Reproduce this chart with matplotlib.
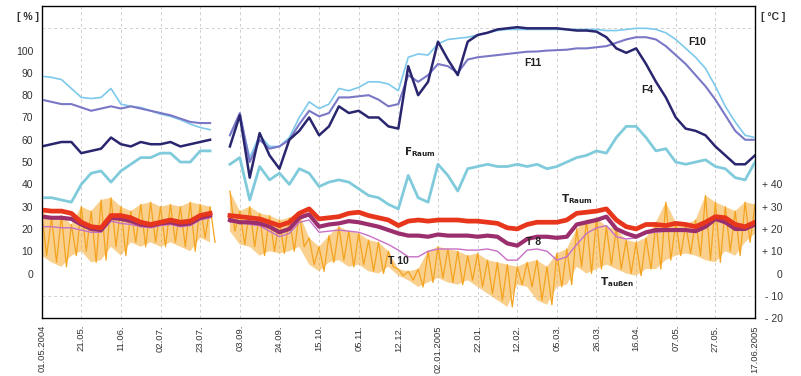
import numpy as np
import matplotlib
matplotlib.use("Agg")
import matplotlib.pyplot as plt

plt.rcParams['font.family'] = ['Liberation Sans', 'DejaVu Sans']

nan = np.nan

# ---- data (sampled every quarter of a tick interval) ----
tick_labels = ['01.05.2004', '21.05.', '11.06.', '02.07.', '23.07.', '03.09.', '24.09.',
               '15.10.', '05.11.', '12.12.', '02.01.2005', '22.01.', '12.02.', '05.03.',
               '26.03.', '16.04.', '07.05.', '27.05.', '17.06.2005']

F10 = [88.5, 88, 87, 83, 79, 78.5, 79, 83, 76, 75, 74.5, 73, 71.5, 70.5, 69, 67, 65.5, 64.5,
       nan, 62, 71, 52, 62, 57, 57, 61, 70, 77, 74, 76, 83, 82, 83.5, 86, 86, 85, 82, 97,
       98.5, 98, 103, 105, 105.5, 106, 107, 108, 109, 109.5, 109.5, 109.5, 109.5, 109.5,
       109.5, 109.5, 109.5, 109.5, 109.5, 109, 109, 109.5, 110, 110, 109.5, 108, 105, 101,
       97, 92, 84, 75, 68, 62, 61]

F11 = [78, 77, 76, 76, 74.5, 73, 74, 75, 74, 75, 74, 73, 72, 71, 69.5, 68, 67.5, 67.5,
       nan, 62, 72, 50, 60, 56, 57, 60, 67, 73, 70.5, 72, 79, 79, 79.5, 80, 78, 75, 76, 89,
       86, 89, 94, 93, 90, 96, 97, 97.5, 98, 98.5, 99, 99.5, 99.6, 100, 100.2, 100.4, 101,
       101, 101.5, 102, 103.5, 105, 106, 106, 105, 102, 98, 94, 89, 84, 78, 71, 64, 60, 60]

F4 = [57, 58, 59, 59, 54, 55, 56, 61, 58, 57, 59, 58, 58, 59, 57, 58, 59, 60,
      nan, 57, 71, 43, 63, 53, 47, 60, 64, 70, 62, 66, 75, 72, 73, 70, 70, 66, 65, 93,
      80, 86, 104, 96, 89, 104, 107, 108, 109.5, 110, 110.5, 110, 110, 110, 110, 109.5,
      109, 109, 108.5, 106, 101, 99, 101, 94, 86, 79, 70, 65, 64, 62, 57, 53, 49, 49, 53]

F_Raum = [34, 34, 33, 32, 40, 45, 46, 41, 46, 49, 52, 52, 54, 54, 50, 50, 55, 55,
          nan, 49, 52, 33, 48, 42, 45, 40, 47, 45, 39, 41, 42, 41, 38, 35, 34, 31, 29, 44,
          34, 32, 49, 44, 37, 47, 48, 49, 48, 48, 49, 48, 49, 47, 48, 50, 52, 53, 55, 54,
          61, 66, 66, 61, 55, 56, 50, 49, 50, 51, 48, 47, 43, 42, 50]

T_Raum = [28.5, 28, 28, 27, 23, 21, 20.5, 26, 26, 25, 23, 22, 23, 24, 23, 23.5, 26, 27,
          nan, 26, 25.5, 25, 24.5, 23, 21.5, 23, 27, 29, 24.5, 25, 25.5, 27, 27.5, 26, 25,
          24, 21.5, 23.5, 24, 23.5, 24, 24, 24, 23.5, 23.5, 23, 22.5, 20.5, 20, 22, 23, 23,
          23, 24, 27, 27.5, 28, 29, 24, 21, 20, 22, 22, 21.5, 22.5, 22, 21, 23, 25.5, 25,
          22, 21, 23]

T8 = [25.5, 25, 25, 24.5, 22, 20, 19.5, 25, 24.5, 23.5, 22, 21.5, 22.5, 23, 22, 22.5, 25, 26,
      nan, 24, 23, 23, 22.5, 21, 18.5, 20, 25, 26.5, 21, 22, 22.5, 23.5, 23, 22, 21, 19.5,
      18, 17, 17, 16.5, 17.5, 17, 17, 17, 16.5, 17, 16.5, 13.5, 12.5, 15.5, 16.5, 16.5, 16,
      16.5, 22, 23, 24, 25.5, 20, 18, 16.5, 18.5, 19.5, 19.5, 19.5, 19.5, 19, 21, 24.5, 23,
      20, 20, 22]

T10 = [21, 21, 20.5, 20.5, 19.5, 18.5, 18.5, 23.5, 22.5, 22, 21, 20.5, 21.5, 22, 21, 21.5, 24, 25,
       nan, 23, 23, 22, 21.5, 19, 16.5, 18, 23, 24, 18.5, 19, 19.5, 19, 18.5, 17, 15, 13,
       10.5, 7.5, 7.5, 10, 11, 11, 11, 10.5, 10.5, 11, 10, 6, 6, 10.5, 11, 10, 6, 7.5, 13,
       18, 20.5, 21.5, 16.5, 15.5, 16, 18, 18.5, 19, 19.5, 19, 18.5, 20.5, 24, 22.5, 19.5,
       20, 22]

# outdoor temperature: daily maxima / minima
T_aussen_max = [28, 25, 26, 22, 30, 28, 33, 34, 30, 28, 31, 32, 30, 31, 30, 32, 31, 30,
                nan, 37, 28, 30, 27, 26, 24, 25, 27, 16, 12, 17, 21, 19, 18, 15, 14, 10,
                2, 1, 2, 10, 12, 11, 10, 8, 9, 6, 5, 4, 3, 5, 6, 3, 9, 11, 20, 24, 25, 21,
                20, 15, 14, 16, 23, 32, 23, 22, 24, 35, 32, 30, 28, 32, 31]
T_aussen_min = [8, 5, 3, 8, 10, 5, 6, 12, 8, 14, 12, 14, 12, 14, 12, 10, 16, 14,
                nan, 19, 13, 12, 8, 10, 9, 10, 12, 4, 1, 5, 6, 3, 4, 1, 0, 3,
                -1, -3, -6, -4, -2, -4, -5, -3, -6, -9, -12, -15, -5, -6, -12, -14, -6, -5,
                3, 0, 2, 4, 2, 0, -1, 2, 2, 6, 8, 9, 8, 6, 5, 10, 8, 14, 18]

# ---- figure ----
fig = plt.figure(figsize=(8.01, 3.76), dpi=100)
ax = fig.add_axes([0.052, 0.154, 0.8906, 0.83])

n = len(F10)
x = np.linspace(0, len(tick_labels) - 1, n)
step = x[1] - x[0]

orange = '#f4a31e'
lo = np.array(T_aussen_min, float)
hi = np.array(T_aussen_max, float)
ax.fill_between(x, lo, hi, color=orange, alpha=0.5, lw=0, zorder=2)
xo = np.column_stack([x, x + step / 2]).ravel()
yo = np.column_stack([hi, lo]).ravel()
ax.plot(xo, yo, color=orange, lw=0.9, zorder=2)

ax.plot(x, T10, color='#c770c6', lw=1.0, zorder=3)
ax.plot(x, T8, color='#9b2f6d', lw=3.0, zorder=4)
ax.plot(x, T_Raum, color='#e8361d', lw=3.4, zorder=5)
ax.plot(x, F_Raum, color='#80cbdb', lw=2.0, zorder=3)
ax.plot(x, F10, color='#7dc9ec', lw=1.2, zorder=4)
ax.plot(x, F11, color='#7a78c6', lw=1.5, zorder=5)
ax.plot(x, F4, color='#29266f', lw=1.8, zorder=6)

ax.set_xlim(0, len(tick_labels) - 1)
ax.set_ylim(-20, 120)
ax.set_xticks(range(len(tick_labels)))
ax.set_xticklabels(tick_labels, rotation=90, fontsize=6.8, color='#333333')
ax.set_yticks(range(0, 101, 10))
ax.set_yticklabels([str(v) for v in range(0, 101, 10)], fontsize=7.5, color='#333333')
ax.set_yticks(range(-10, 111, 10), minor=True)
ax.tick_params(axis='y', which='both', length=0, pad=6)
ax.tick_params(axis='x', which='both', length=0, pad=5)
ax.grid(True, which='minor', axis='y', color='#cfcfcf', ls=(0, (3, 3)), lw=0.7)
ax.grid(True, which='major', axis='x', color='#cfcfcf', ls=(0, (3, 3)), lw=0.7)
for s in ax.spines.values():
    s.set_color('#555555')
    s.set_linewidth(1.0)

ax2 = ax.twinx()
ax2.set_ylim(-20, 120)
rt = list(range(-20, 41, 10))
ax2.set_yticks(rt)
ax2.set_yticklabels(['- 20', '- 10', '0', '+ 10', '+ 20', '+ 30', '+ 40'],
                    fontsize=7.5, color='#333333')
for lab in ax2.get_yticklabels():
    lab.set_horizontalalignment('right')
ax2.tick_params(axis='y', length=0, pad=20)

fig.text(0.035, 0.955, '[ % ]', fontsize=7.5, fontweight='bold', ha='center', va='center', color='#333333')
fig.text(0.965, 0.955, '[ °C ]', fontsize=7.5, fontweight='bold', ha='center', va='center', color='#333333')

lab_kw = dict(fontsize=7.5, fontweight='bold', color='#222222', zorder=10)
ax.text(16.53, 104, 'F10', ha='center', va='center', **lab_kw)
ax.text(12.39, 94.6, 'F11', ha='center', va='center', **lab_kw)
ax.text(15.27, 82.5, 'F4', ha='center', va='center', **lab_kw)
ax.text(9.15, 54.5, r'$\mathbf{F}_{\mathbf{Raum}}$', ha='left', va='center', **lab_kw)
ax.text(13.1, 33.5, r'$\mathbf{T}_{\mathbf{Raum}}$', ha='left', va='center', **lab_kw)
ax.text(12.22, 14, 'T 8', ha='left', va='center', **lab_kw)
ax.text(8.75, 5.4, 'T 10', ha='left', va='center', **lab_kw)
ax.text(14.1, -4, r'$\mathbf{T}_{\mathbf{außen}}$', ha='left', va='center', **lab_kw)

fig.savefig('out.png', dpi=100)
